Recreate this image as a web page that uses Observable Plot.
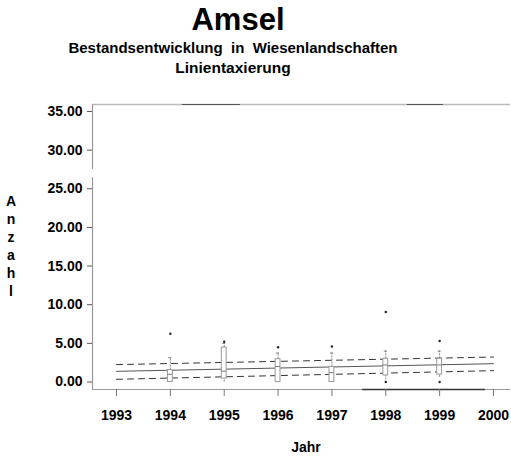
<!DOCTYPE html>
<html>
<head>
<meta charset="utf-8">
<script src="https://cdn.jsdelivr.net/npm/d3@7"></script>
<script src="https://cdn.jsdelivr.net/npm/@observablehq/plot@0.6"></script>
<style>
  html, body { margin: 0; padding: 0; background: #fff; }
  #wrap { position: relative; width: 511px; height: 460px; font-family: "Liberation Sans", Arial, sans-serif; font-weight: bold; color: #000; }
  .t { position: absolute; white-space: pre; text-align: center; }
  #chart { position: absolute; left: 0; top: 0; }
</style>
</head>
<body>
<div id="wrap">
  <div id="chart"></div>
  <div class="t" style="left:138px; width:200px; top:2px; font-size:31px;">Amsel</div>
  <div class="t" style="left:33px; width:400px; top:39px; font-size:15px;">Bestandsentwicklung  in  Wiesenlandschaften</div>
  <div class="t" style="left:133px; width:200px; top:59px; font-size:15.5px;">Linientaxierung</div>
  <div class="t" style="left:256px; width:100px; top:439px; font-size:14px;">Jahr</div>
  <div class="t" style="left:4px; width:14px; top:192px; font-size:14px; line-height:18px;">A<br>n<br>z<br>a<br>h<br>l</div>
</div>
<script>
// --- data ---
const years = [1994, 1995, 1996, 1997, 1998, 1999];
const q1 = [0.0, 0.45, 0.0, 0.0, 0.85, 0.95];
const q3 = [1.55, 4.45, 2.95, 1.95, 3.0, 3.0];
const medians = [1.0, 1.4, 2.0, 1.2, 2.2, 2.2];
const whiskerLow = [0.0, 0.0, 0.0, 0.0, 0.25, 0.6];
const whiskerHigh = [3.15, 5.0, 3.75, 3.75, 4.0, 4.0];
const outlierYears = [1994, 1995, 1996, 1997, 1998, 1998, 1999, 1999];
const outlierValues = [6.25, 5.2, 4.5, 4.6, 9.05, 0.0, 5.3, 0.0];
const trendYears = [1993, 2000];
const trendFit = [1.38, 2.37];
const trendUpper = [2.25, 3.23];
const trendLower = [0.35, 1.47];
const xTicks = [1993, 1994, 1995, 1996, 1997, 1998, 1999, 2000];
const yTicks = [0, 5, 10, 15, 20, 25, 30, 35];

const xDomain = [1992.554, 2000.316];
const yDomain = [-0.97, 35.9];

const boxes = years.map((yr, i) => ({yr, q1: q1[i], q3: q3[i], med: medians[i], lo: whiskerLow[i], hi: whiskerHigh[i]}));
const outliers = outlierYears.map((yr, i) => ({yr, v: outlierValues[i]}));
const trend = (vals) => trendYears.map((yr, i) => ({yr, v: vals[i]}));

const bw = 0.045;
const font = {fontFamily: "Liberation Sans, Arial, sans-serif", fontWeight: "bold", fontSize: 14};

const chart = Plot.plot({
  width: 511,
  height: 460,
  marginLeft: 92,
  marginRight: 1,
  marginTop: 104,
  marginBottom: 71,
  x: {domain: xDomain, label: null},
  y: {domain: yDomain, label: null},
  style: {background: "transparent", overflow: "visible"},
  marks: [
    // frame top and bottom
    Plot.ruleY([yDomain[1]], {x1: xDomain[0], x2: xDomain[1], stroke: "#bbb", strokeWidth: 1.5}),
    Plot.ruleY([yDomain[1]], {x1: 1994.22, x2: 1995.30, stroke: "#555", strokeWidth: 1}),
    Plot.ruleY([yDomain[1]], {x1: 1998.40, x2: 1999.07, stroke: "#555", strokeWidth: 1}),
    Plot.ruleY([yDomain[0]], {x1: xDomain[0], x2: xDomain[1], stroke: "#999", strokeWidth: 1.2}),
    Plot.ruleY([yDomain[0]], {x1: 1997.57, x2: 1999.85, stroke: "#333", strokeWidth: 1.5}),
    // left axis line with break
    Plot.ruleX([xDomain[0]], {y1: yDomain[0], y2: 26.45, stroke: "#999", strokeWidth: 1.2}),
    Plot.ruleX([xDomain[0]], {y1: 27.5, y2: yDomain[1], stroke: "#999", strokeWidth: 1.2}),
    // axes
    Plot.axisY(yTicks, {label: null, tickFormat: d3.format(".2f"), tickSize: 5, tickPadding: 5, stroke: "#555", fill: "#000", ...font, letterSpacing: "0.6px"}),
    Plot.axisX(xTicks, {label: null, tickFormat: d => String(d), tickSize: 7, tickPadding: 14, stroke: "#777", fill: "#000", ...font, letterSpacing: "0.5px"}),
    // trend lines
    Plot.line(trend(trendUpper), {x: "yr", y: "v", stroke: "#333", strokeWidth: 1, strokeDasharray: "6,5"}),
    Plot.line(trend(trendLower), {x: "yr", y: "v", stroke: "#333", strokeWidth: 1, strokeDasharray: "6,5"}),
    Plot.line(trend(trendFit), {x: "yr", y: "v", stroke: "#555", strokeWidth: 1}),
    // box plots
    Plot.ruleX(boxes, {x: "yr", y1: "q3", y2: "hi", stroke: "#888", strokeWidth: 1, strokeDasharray: "2,1"}),
    Plot.ruleX(boxes, {x: "yr", y1: "lo", y2: "q1", stroke: "#888", strokeWidth: 1, strokeDasharray: "2,1"}),
    Plot.ruleY(boxes, {x1: d => d.yr - bw * 0.6, x2: d => d.yr + bw * 0.6, y: "hi", stroke: "#777"}),
    Plot.rect(boxes, {x1: d => d.yr - bw, x2: d => d.yr + bw, y1: "q1", y2: "q3", fill: "white", stroke: "#999", strokeWidth: 1}),
    Plot.ruleY(boxes, {x1: d => d.yr - bw, x2: d => d.yr + bw, y: "med", stroke: "#777", strokeWidth: 1}),
    Plot.dot(outliers, {x: "yr", y: "v", r: 1.2, fill: "#222", stroke: null})
  ]
});
document.getElementById("chart").appendChild(chart);
</script>
</body>
</html>
